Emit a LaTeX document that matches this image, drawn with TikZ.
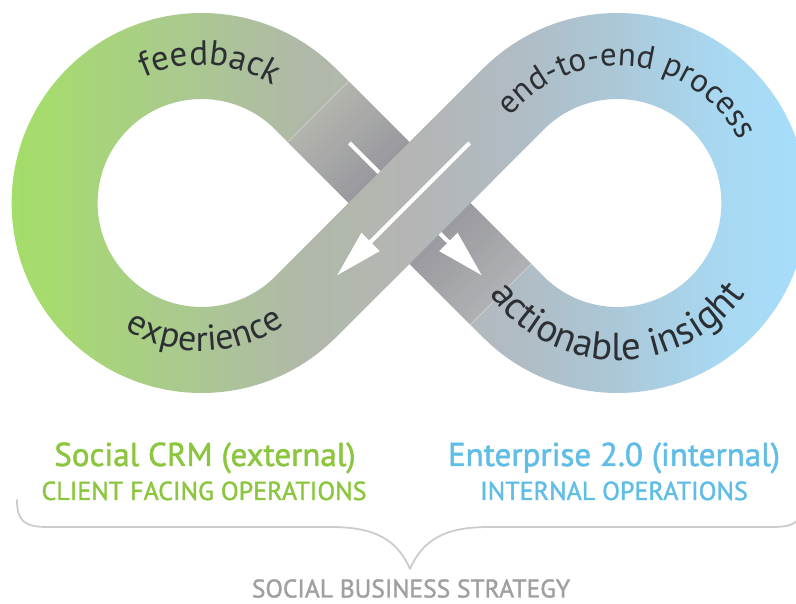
\documentclass[tikz,border=0pt]{standalone}
\usepackage{fontspec}
\usetikzlibrary{decorations.text}
\newfontfamily\ringfont{PT Sans}
\newfontfamily\labelfont[FakeBold=1.5]{PT Sans}

% colours of the loop band, left (green) to right (blue)
\definecolor{bandA}{HTML}{A2DD68}
\definecolor{bandB}{HTML}{A6DC6E}
\definecolor{bandC}{HTML}{A8D17F}
\definecolor{bandD}{HTML}{ABC793}
\definecolor{bandE}{HTML}{B0B9A8}
\definecolor{bandF}{HTML}{B4B5B4}
\definecolor{bandG}{HTML}{B0BCC4}
\definecolor{bandH}{HTML}{ABC8D8}
\definecolor{bandI}{HTML}{A8D8F1}
\definecolor{bandJ}{HTML}{A7DDFA}
% strip passing underneath, from its upper left end to its lower right end
\definecolor{underA}{HTML}{B2B4AD}
\definecolor{underB}{HTML}{A7A8A7}
\definecolor{underC}{HTML}{98989E}
\definecolor{underD}{HTML}{94949A}
\definecolor{underE}{HTML}{9A9AA0}
\definecolor{underF}{HTML}{A6A7AA}
\definecolor{underG}{HTML}{AFB1B4}
\definecolor{seamcol}{HTML}{D4D6D2}
\definecolor{ringtext}{HTML}{2C2F33}
\definecolor{crmgreen}{HTML}{8CC63F}
\definecolor{entblue}{HTML}{5FBDE6}
\definecolor{stratgrey}{HTML}{A0A0A0}
\definecolor{bracecol}{HTML}{CCCCCC}

% horizontal colour run; 25bp..75bp spans the full picture width
\pgfdeclarehorizontalshading{bandshade}{100bp}{
  color(0bp)=(bandA);
  color(25bp)=(bandA);
  color(27.51bp)=(bandB);
  color(32.54bp)=(bandC);
  color(37.69bp)=(bandD);
  color(43.84bp)=(bandE);
  color(50.72bp)=(bandF);
  color(57.66bp)=(bandG);
  color(63.76bp)=(bandH);
  color(70.23bp)=(bandI);
  color(75bp)=(bandJ);
  color(100bp)=(bandJ)}

% colour run along the lower strip; 25bp..75bp spans its length
\pgfdeclarehorizontalshading{undershade}{100bp}{
  color(0bp)=(underA);
  color(25bp)=(underA);
  color(32.5bp)=(underB);
  color(41.7bp)=(underC);
  color(50bp)=(underD);
  color(58.3bp)=(underE);
  color(67.5bp)=(underF);
  color(75bp)=(underG);
  color(100bp)=(underG)}

\newcommand\ringtxt{\ringfont\fontsize{35}{35}\selectfont}
\newcommand\ringtxtexp{\ringfont\fontsize{36}{36}\selectfont}
\newcommand\ringtxtproc{\ringfont\fontsize{33}{33}\selectfont}
\newcommand\ringtxtins{\ringfont\fontsize{39}{39}\selectfont}

\tikzset{
  fullwidth/.style={shading=bandshade},
  seam/.style={draw=seamcol, line width=0.6pt},
  arrowline/.style={draw=white, line width=4pt},
  arrowtip/.style={fill=white},
  ringlabel/.style={decorate, decoration={text along path, text align=center,
      text color=ringtext, text={#1}}},
  headline/.style={font=\labelfont\fontsize{33}{33}\selectfont, inner sep=0pt, anchor=base},
  subline/.style={font=\labelfont\fontsize{26}{26}\selectfont, inner sep=0pt, anchor=base},
  braceline/.style={draw=bracecol, line width=1.8pt, line cap=round, line join=round},
}

\begin{document}
\begin{tikzpicture}[x=1pt,y=1pt]
\useasboundingbox (-409.5,-401) rectangle (386.5,203);
\coordinate (lc) at (-207.89,0);
\coordinate (rc) at (207.89,0);

% left loop of the band
\begin{scope}
  \clip (60.81,0) -- (-73.54,134.35) arc[start angle=45,end angle=315,radius=190] -- cycle
        (-60.81,0) -- (-134.35,-73.54) arc[start angle=-45,end angle=-315,radius=104] -- cycle;
  \shade[fullwidth] (-409.5,-401) rectangle (386.5,203);
\end{scope}

% right loop of the band
\begin{scope}
  \clip (-60.81,0) -- (73.54,134.35) arc[start angle=135,end angle=-135,radius=190] -- cycle
        (60.81,0) -- (134.35,-73.54) arc[start angle=-135,end angle=135,radius=104] -- cycle;
  \shade[fullwidth] (-409.5,-401) rectangle (386.5,203);
\end{scope}

% strip running underneath, upper left to lower right
\begin{scope}[transform canvas={rotate=-45}]
  \shade[shading=undershade] (-129,-43) rectangle (129,43);
  \draw[seam] (-129,-43) -- (-129,43);
  \draw[seam] (129,-43) -- (129,43);
  \draw[arrowline] (-85,0) -- (56,0);
  \fill[arrowtip] (102,0) -- (55,13) -- (55,-13) -- cycle;
\end{scope}

% strip on top, upper right to lower left
\begin{scope}
  \clip[rotate=45] (-75,-43) -- (75,-43) -- (75,43) -- (-75,43) -- cycle;
  \shade[fullwidth] (-409.5,-401) rectangle (386.5,203);
\end{scope}
\begin{scope}[transform canvas={rotate=45}]
  \draw[arrowline] (85,0) -- (-56,0);
  \fill[arrowtip] (-102,0) -- (-55,13) -- (-55,-13) -- cycle;
\end{scope}

% words along the loops
\path[ringlabel={|\ringtxt|feedback}]
  ([shift={(150:138)}]lc) arc[start angle=150,end angle=23,radius=138];
\path[ringlabel={|\ringtxtexp|experience}]
  ([shift={(200:148)}]lc) arc[start angle=200,end angle=343,radius=148];
\path[ringlabel={|\ringtxtproc|end-to-end process}]
  ([shift={(160:137)}]rc) arc[start angle=160,end angle=8,radius=137];
\path[ringlabel={|\ringtxtins|actionable insight}]
  ([shift={(192:157)}]rc) arc[start angle=192,end angle=348,radius=157];

% captions
\node[headline, text=crmgreen] (crm) at (-204.5,-263) {Social CRM (external)};
\node[subline, text=crmgreen] (client) at (-205.5,-297) {CLIENT FACING OPERATIONS};
\node[headline, text=entblue] (ent) at (204.5,-263) {Enterprise 2.0 (internal)};
\node[subline, text=entblue] (internal) at (204.5,-297) {INTERNAL OPERATIONS};
\node[subline, text=stratgrey, font=\labelfont\fontsize{25.5}{25.5}\selectfont]
  (strategy) at (1.5,-394.5) {SOCIAL BUSINESS STRATEGY};

% brace gathering both sides
\draw[braceline] (-392.5,-297) .. controls (-392.5,-318) and (-385,-324) .. (-362,-324)
  -- (-80,-324) .. controls (-45,-324) and (-15,-330) .. (0.5,-366)
  .. controls (16,-330) and (46,-324) .. (81,-324)
  -- (363,-324) .. controls (386,-324) and (393.5,-318) .. (393.5,-297);
\end{tikzpicture}
\end{document}
